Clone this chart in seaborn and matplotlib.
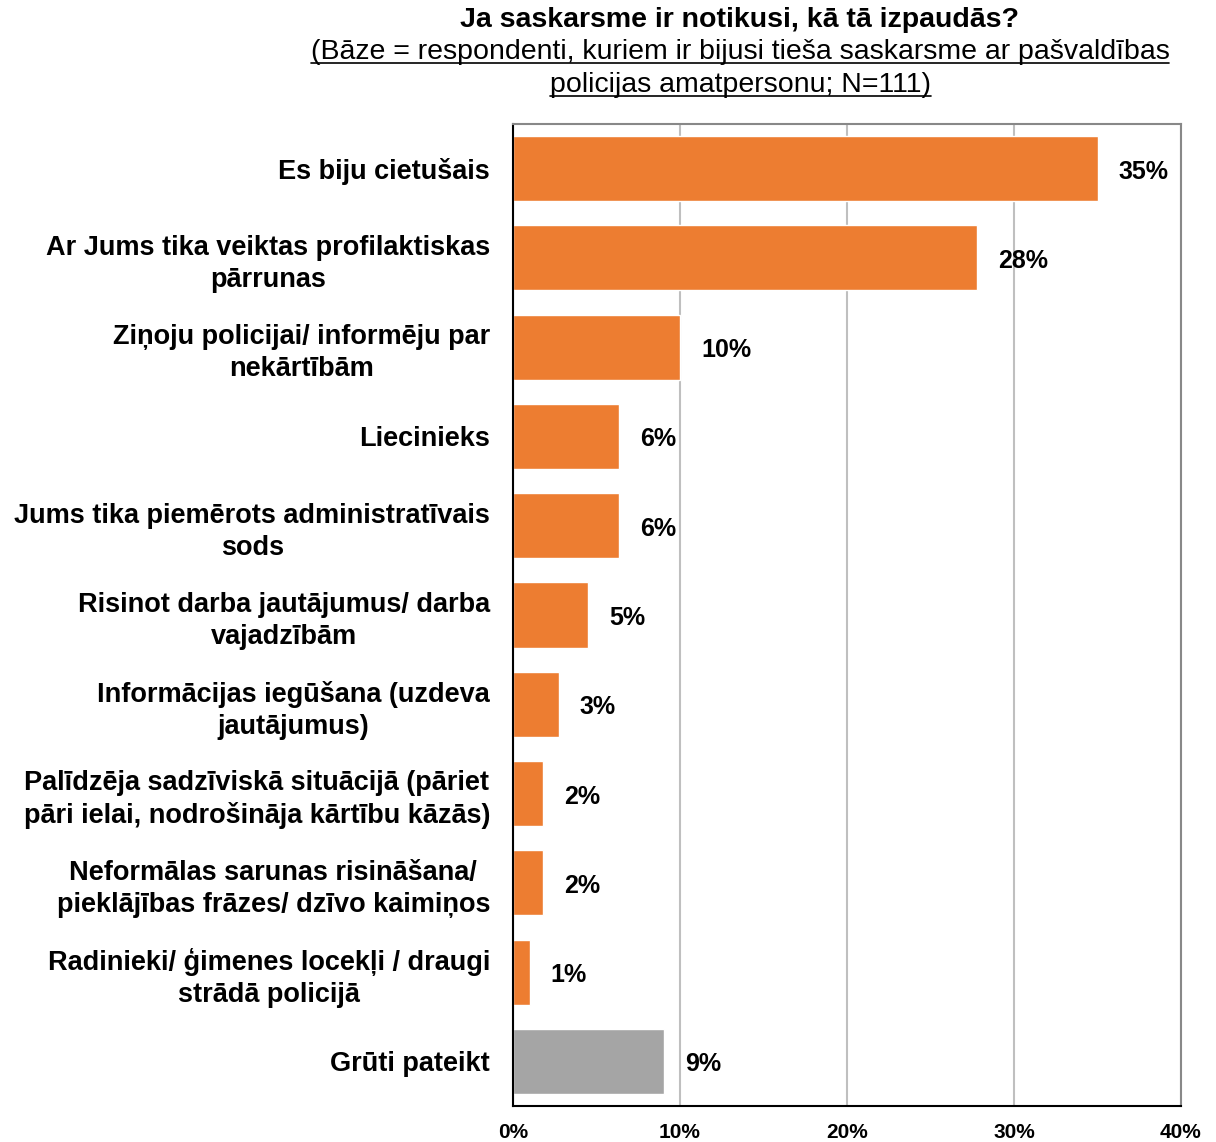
import numpy as np
import pandas as pd
import matplotlib
matplotlib.use("Agg")
import matplotlib.pyplot as plt
from matplotlib.lines import Line2D
import seaborn as sns

# Dati
kategorijas = [
    "Es biju cietušais",
    "Ar Jums tika veiktas profilaktiskas\npārrunas",
    "Ziņoju policijai/ informēju par\nnekārtībām",
    "Liecinieks",
    "Jums tika piemērots administratīvais\nsods",
    "Risinot darba jautājumus/ darba\nvajadzībām",
    "Informācijas iegūšana (uzdeva\njautājumus)",
    "Palīdzēja sadzīviskā situācijā (pāriet\npāri ielai, nodrošināja kārtību kāzās)",
    "Neformālas sarunas risināšana/\npieklājības frāzes/ dzīvo kaimiņos",
    "Radinieki/ ģimenes locekļi / draugi\nstrādā policijā",
    "Grūti pateikt",
]
vertibas = [35.0, 27.8, 10.0, 6.35, 6.35, 4.5, 2.75, 1.8, 1.8, 1.0, 9.05]
etiketes = ["35%", "28%", "10%", "6%", "6%", "5%", "3%", "2%", "2%", "1%", "9%"]
krasas = ["#ED7D31"] * 10 + ["#A5A5A5"]
x_ticks = [0, 10, 20, 30, 40]

sns.set_style("white")
plt.rcParams["font.family"] = ["Liberation Sans", "DejaVu Sans"]
plt.rcParams["text.color"] = "black"
plt.rcParams["xtick.color"] = "black"
plt.rcParams["ytick.color"] = "black"

df = pd.DataFrame({"kat": kategorijas, "val": vertibas})

fig = plt.figure(figsize=(12.16, 11.42), dpi=100)
ax = fig.add_axes([513 / 1216, 1 - 1106 / 1142, (1181 - 513) / 1216, (1106 - 124) / 1142])

sns.barplot(data=df, x="val", y="kat", hue="kat", palette=krasas, legend=False,
            orient="h", width=0.73, ax=ax, saturation=1)

ax.set_xlim(0, 40)
ax.set_ylim(len(kategorijas) - 0.5, -0.5)
ax.set_xticks(x_ticks)
ax.set_xticklabels([f"{t}%" for t in x_ticks], fontsize=15, fontweight="bold")
ax.set_xlabel("")
ax.set_ylabel("")

# y ticks at category boundaries, labels at centres
ax.set_yticks(np.arange(len(kategorijas)))
ax.set_yticklabels(kategorijas, fontsize=19.5, fontweight="bold",
                   multialignment="center", linespacing=1.3)
ax.tick_params(axis="y", length=0, pad=16.5)
ax.set_yticks(np.arange(-0.5, len(kategorijas) + 0.5, 1), minor=True)
ax.tick_params(axis="y", which="minor", length=6, width=1.5, direction="out", color="black")
ax.tick_params(axis="x", length=6, width=1.5, direction="out", color="black", pad=6)

ax.grid(axis="x", color="#BFBFBF", linewidth=1.5)
ax.set_axisbelow(True)
for s in ["left", "bottom"]:
    ax.spines[s].set_color("black")
    ax.spines[s].set_linewidth(1.5)
for s in ["top", "right"]:
    ax.spines[s].set_color("#888888")
    ax.spines[s].set_linewidth(1.5)

# vērtību etiķetes
for i, (v, e) in enumerate(zip(vertibas, etiketes)):
    ax.annotate(e, (v, i), xytext=(21, -3), textcoords="offset pixels",
                va="center", ha="left", fontsize=18, fontweight="bold")

# virsraksts
fig.text(740 / 1216, 1 - 20 / 1142, "Ja saskarsme ir notikusi, kā tā izpaudās?",
         ha="center", va="center", fontsize=20.5, fontweight="bold")
sub1 = fig.text(740 / 1216, 1 - 52 / 1142,
                "(Bāze = respondenti, kuriem ir bijusi tieša saskarsme ar pašvaldības",
                ha="center", va="center", fontsize=20.5)
sub2 = fig.text(740 / 1216, 1 - 85 / 1142, "policijas amatpersonu; N=111)",
                ha="center", va="center", fontsize=20.5)

fig.canvas.draw()
r = fig.canvas.get_renderer()
for t in [sub1, sub2]:
    bb = t.get_window_extent(r).transformed(fig.transFigure.inverted())
    y = bb.y0 + 0.002
    fig.add_artist(Line2D([bb.x0, bb.x1], [y, y], color="black", linewidth=1.2,
                          transform=fig.transFigure))

plt.savefig("out.png", dpi=100)
